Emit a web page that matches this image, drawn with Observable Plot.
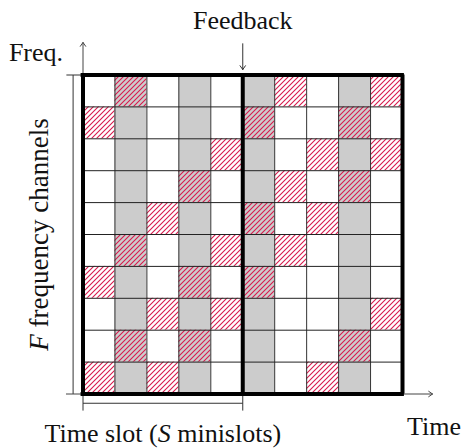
<!DOCTYPE html>
<html>
<head>
<meta charset="utf-8">
<script src="https://cdn.jsdelivr.net/npm/d3@7"></script>
<script src="https://cdn.jsdelivr.net/npm/@observablehq/plot@0.6"></script>
<style>
  html, body { margin: 0; padding: 0; background: #fff; }
  #chart { width: 462px; height: 448px; }
</style>
</head>
<body>
<div id="chart"></div>
<script>
// ---- data ----
const nColumns = 10;            // minislots (2 time slots x S=5)
const nRows = 10;               // F frequency channels
const grayColumns = [1, 3, 5, 8];
const slotBoundaries = [0, 5, 10];
// hatched (selected) cells: column indices per row, top row first
const hatchedByRow = [
  [1, 6, 9],
  [0, 5, 8],
  [4, 7, 9],
  [3, 6, 8],
  [2, 5, 7],
  [1, 4, 6],
  [0, 3, 5],
  [2, 4, 9],
  [1, 3, 8],
  [0, 2, 7]
];
const labelTexts = ["Feedback", "Freq.", "Time", "Time slot (S minislots)", "F frequency channels"];

// ---- derived tables ----
const hatchedCells = hatchedByRow.flatMap((cols, row) => cols.map(col => ({row, col})));
const innerCols = d3.range(1, nColumns);
const innerRows = d3.range(1, nRows);

const axisArrows = [
  {x1: 0, y1: 0, x2: 0, y2: -1.02},          // Freq. axis
  {x1: -0.52, y1: 10, x2: 10.94, y2: 10}      // Time axis
];
const feedbackArrow = [{x1: 5, y1: -0.98, x2: 5, y2: -0.17}];
const bracketLines = [
  {x1: -0.31, y1: 0, x2: -0.31, y2: 10},
  {x1: -0.52, y1: 0, x2: 0, y2: 0},
  {x1: 0, y1: 10.29, x2: 5, y2: 10.29},
  {x1: 0, y1: 10, x2: 0, y2: 10.52},
  {x1: 5, y1: 10, x2: 5, y2: 10.52}
];
const middleLabels = [
  {text: labelTexts[0], x: 5, y: -1.43},
  {text: labelTexts[3], x: 2.5, y: 11.5}
];
const startLabels = [
  {text: labelTexts[1], x: -2.32, y: -0.45},
  {text: labelTexts[2], x: 10.14, y: 11.29}
];
const rotatedLabels = [{text: labelTexts[4], x: -1.11, y: 5}];

const serif = "Liberation Serif";

const chart = Plot.plot({
  width: 462,
  height: 448,
  style: {fontFamily: serif},
  x: {domain: [0, nColumns], range: [82.5, 402], axis: null},
  y: {domain: [0, nRows], range: [74.5, 393.5], axis: null},
  marks: [
    Plot.rect(grayColumns, {x1: d => d, x2: d => d + 1, y1: 0, y2: nRows, fill: "#cccccc"}),
    Plot.rect(hatchedCells, {x1: d => d.col, x2: d => d.col + 1, y1: d => d.row, y2: d => d.row + 1, fill: "url(#hatch)"}),
    Plot.ruleX(innerCols, {y1: 0, y2: nRows, stroke: "#333", strokeWidth: 1}),
    Plot.ruleY(innerRows, {x1: 0, x2: nColumns, stroke: "#222", strokeWidth: 1}),
    Plot.link(bracketLines, {x1: "x1", y1: "y1", x2: "x2", y2: "y2", stroke: "#333", strokeWidth: 1}),
    Plot.arrow(axisArrows, {x1: "x1", y1: "y1", x2: "x2", y2: "y2", stroke: "#444", strokeWidth: 1, headLength: 7, headAngle: 70}),
    Plot.arrow(feedbackArrow, {x1: "x1", y1: "y1", x2: "x2", y2: "y2", stroke: "#333", strokeWidth: 1, headLength: 7, headAngle: 70}),
    Plot.ruleX(slotBoundaries, {y1: 0, y2: nRows, stroke: "#000", strokeWidth: 4}),
    Plot.ruleY([0, nRows], {x1: -0.06, x2: nColumns + 0.06, stroke: "#000", strokeWidth: 4}),
    Plot.text(middleLabels, {x: "x", y: "y", text: "text", textAnchor: "middle", lineAnchor: "bottom", fontSize: 26, fontFamily: serif, fill: "#111"}),
    Plot.text(startLabels, {x: "x", y: "y", text: "text", textAnchor: "start", lineAnchor: "bottom", fontSize: 26, fontFamily: serif, fill: "#111"}),
    Plot.text(rotatedLabels, {x: "x", y: "y", text: "text", rotate: -90, textAnchor: "middle", lineAnchor: "bottom", fontSize: 27, fontFamily: serif, fill: "#111"})
  ]
});

const svg = d3.select(chart);

// hatch pattern definition (north east lines)
const defs = svg.insert("defs", ":first-child");
const pat = defs.append("pattern")
  .attr("id", "hatch")
  .attr("patternUnits", "userSpaceOnUse")
  .attr("width", 5).attr("height", 5);
pat.append("path")
  .attr("d", "M-1,1 L1,-1 M0,5 L5,0 M4,6 L6,4")
  .attr("stroke", "#d8194d")
  .attr("stroke-width", 1.1)
  .attr("fill", "none");

// italic math symbols inside labels
svg.selectAll("text").each(function () {
  const t = this.textContent;
  if (t === "Time slot (S minislots)") {
    this.textContent = "";
    const s = d3.select(this);
    s.append("tspan").text("Time slot (");
    s.append("tspan").attr("font-style", "italic").text("S");
    s.append("tspan").text(" minislots)");
  } else if (t === "F frequency channels") {
    this.textContent = "";
    const s = d3.select(this);
    s.append("tspan").attr("font-style", "italic").text("F");
    s.append("tspan").text(" frequency channels");
  }
});

document.getElementById("chart").appendChild(chart);
</script>
</body>
</html>
